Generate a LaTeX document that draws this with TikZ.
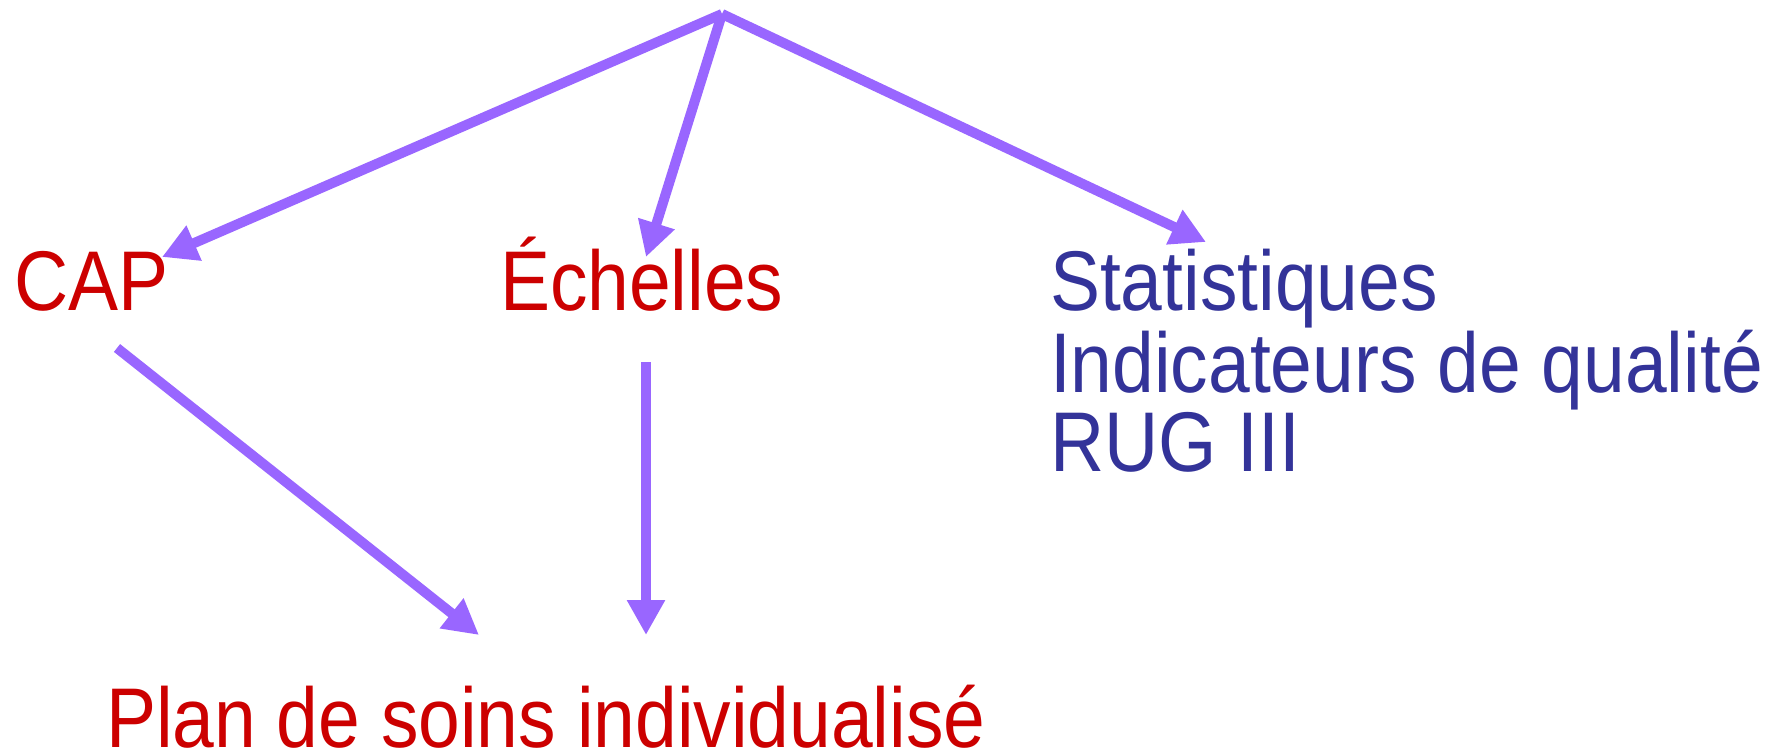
\documentclass[tikz,border=0pt]{standalone}
\usepackage{graphicx}
\usepackage{fontspec}
\setmainfont{Liberation Sans}
\usetikzlibrary{arrows.meta}
\definecolor{arrowcol}{HTML}{9966FF}
\definecolor{redtxt}{HTML}{CC0000}
\definecolor{bluetxt}{HTML}{333399}
\newcommand{\tallt}[1]{\scalebox{1}[1.13]{#1}}
\tikzset{
  arr/.style={draw=arrowcol, line width=10pt, -{Triangle[length=35pt,width=36pt]}},
  lbl/.style={inner sep=0pt, outer sep=0pt, anchor=base west, font=\fontsize{75pt}{82pt}\selectfont},
}
\begin{document}
\begin{tikzpicture}[x=1pt,y=-1pt]
\useasboundingbox (0,0) rectangle (1774,751);
\node[lbl, text=redtxt] (cap) at (14.5,310) {\tallt{CAP}};
\node[lbl, text=redtxt] (ech) at (500,310) {\tallt{Échelles}};
\node[lbl, text=bluetxt] (stat1) at (1050,310) {\tallt{Statistiques}};
\node[lbl, text=bluetxt] (stat2) at (1050,392) {\tallt{Indicateurs de qualité}};
\node[lbl, text=bluetxt] (stat3) at (1050,471) {\tallt{RUG III}};
\node[lbl, text=redtxt] (plan) at (106,747) {\tallt{Plan de soins individualisé}};
\coordinate (top) at (722,14);
\coordinate (capin) at (162,257);
\coordinate (echin) at (646,257);
\coordinate (statin) at (1206,242);
\coordinate (capout) at (117,348);
\coordinate (echout) at (646,362);
\coordinate (planinA) at (479,635);
\coordinate (planinB) at (646,635);
\draw[arr] (top) -- (capin);
\draw[arr] (top) -- (echin);
\draw[arr] (top) -- (statin);
\draw[arr] (capout) -- (planinA);
\draw[arr] (echout) -- (planinB);
\end{tikzpicture}
\end{document}
